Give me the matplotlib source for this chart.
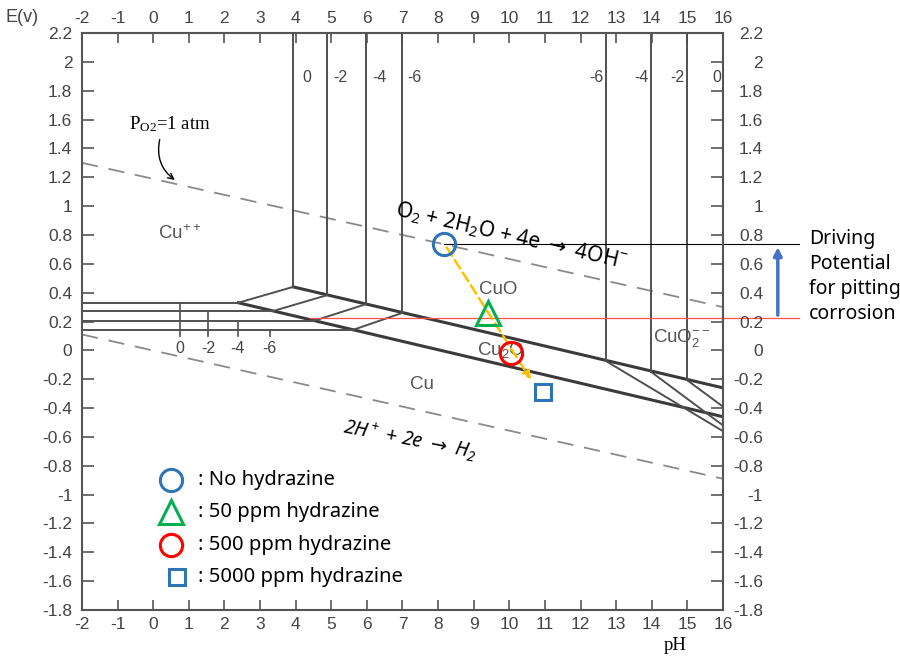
import matplotlib.pyplot as plt

# axis ranges and ticks
ph_ticks = list(range(-2, 17))
e_ticks = [-1.8, -1.6, -1.4, -1.2, -1.0, -0.8, -0.6, -0.4, -0.2, 0.0,
           0.2, 0.4, 0.6, 0.8, 1.0, 1.2, 1.4, 1.6, 1.8, 2.0, 2.2]
e_tick_labels = ['{:g}'.format(v) for v in e_ticks]

# water stability lines (dashed)
o2_ph = [-2, 16]
o2_e = [1.30, 0.30]
h2_ph = [-2, 16]
h2_e = [0.11, -0.89]

# main oxide boundaries (thick)
cuo_cu2o_ph = [3.93, 16]
cuo_cu2o_e = [0.44, -0.26]
cu2o_cu_ph = [2.39, 16]
cu2o_cu_e = [0.33, -0.46]

# Cu++ boundaries for log[Cu++] = 0, -2, -4, -6
conc_labels = ['0', '-2', '-4', '-6']
cu_ion_e = [0.33, 0.275, 0.205, 0.141]
cu_ion_end_ph = [2.39, 3.40, 4.52, 5.60]
cu_cuo_ph = [3.93, 4.89, 5.97, 7.0]
cu_cuo_bottom_e = [0.44, 0.383, 0.32, 0.26]
conc_mark_ph = [0.75, 1.54, 2.37, 3.27]
conc_top_label_ph = [4.3, 5.26, 6.35, 7.34]

# CuO2-- boundaries
cuo2_labels = ['-6', '-4', '-2', '0']
cuo2_label_ph = [12.45, 13.7, 14.73, 15.83]
cuo2_ph = [12.72, 13.97, 15.0]
cuo2_bottom_e = [-0.075, -0.147, -0.208]
cuo2_end_e = [-0.56, -0.52, -0.39]

# measured potentials
sample_labels = [': No hydrazine', ': 50 ppm hydrazine',
                 ': 500 ppm hydrazine', ': 5000 ppm hydrazine']
sample_ph = [8.18, 9.39, 10.04, 10.94]
sample_e = [0.735, 0.26, -0.02, -0.29]
sample_markers = ['o', '^', 'o', 's']
sample_colors = ['#2E75B6', '#00B050', '#FF0000', '#2E75B6']
sample_sizes = [16, 17, 16, 12]
legend_marker_ph = [0.5, 0.5, 0.5, 0.67]
legend_e = [-0.90, -1.12, -1.35, -1.57]

trend_start = (8.2, 0.73)
trend_end = (10.65, -0.22)
drive_high = 0.735
drive_low = 0.225

sans = ['Noto Sans', 'DejaVu Sans']

fig = plt.figure(figsize=(9, 6.56), dpi=100)
ax = fig.add_axes([0.0911, 0.0701, 0.7122, 0.8796])
ax.set_xlim(-2, 16)
ax.set_ylim(-1.8, 2.2)

line_c = '#3a3a3a'
thin_c = '#505050'
dash_c = '#8a8a8a'
axis_c = '#555555'
lab_c = '#444444'

# water lines
ax.plot(o2_ph, o2_e, color=dash_c, lw=1.3, dashes=(9, 6))
ax.plot(h2_ph, h2_e, color=dash_c, lw=1.3, dashes=(9, 6))

# thick boundaries
ax.plot(cuo_cu2o_ph, cuo_cu2o_e, color=line_c, lw=2.2)
ax.plot(cu2o_cu_ph, cu2o_cu_e, color=line_c, lw=2.2)

# Cu++ region lines
for i in range(4):
    ax.plot([-2, cu_ion_end_ph[i]], [cu_ion_e[i], cu_ion_e[i]], color=thin_c, lw=1.4)
    ax.plot([cu_cuo_ph[i], cu_cuo_ph[i]], [2.2, cu_cuo_bottom_e[i]], color=thin_c, lw=1.4)
    ax.plot([cu_ion_end_ph[i], cu_cuo_ph[i]], [cu_ion_e[i], cu_cuo_bottom_e[i]],
            color=thin_c, lw=1.4)
    ax.plot([conc_mark_ph[i], conc_mark_ph[i]], [cu_ion_e[i], 0.10], color=thin_c, lw=1.2)
    ax.text(conc_mark_ph[i], 0.015, conc_labels[i], ha='center', va='center',
            fontsize=11.5, color=lab_c, family='Liberation Sans')
    ax.text(conc_top_label_ph[i], 1.89, conc_labels[i], ha='center', va='center',
            fontsize=11.5, color=lab_c, family='Liberation Sans')

# CuO2-- region lines
for i in range(3):
    ax.plot([cuo2_ph[i], cuo2_ph[i]], [2.2, cuo2_bottom_e[i]], color=thin_c, lw=1.4)
    ax.plot([cuo2_ph[i], 16], [cuo2_bottom_e[i], cuo2_end_e[i]], color=thin_c, lw=1.4)
for i in range(4):
    ax.text(cuo2_label_ph[i], 1.89, cuo2_labels[i], ha='center', va='center',
            fontsize=11.5, color=lab_c, family='Liberation Sans')

# region names
reg = dict(fontsize=13.5, color='#555555', family='Liberation Sans', ha='center', va='center')
ax.text(0.75, 0.81, r'Cu$\mathregular{^{++}}$', **reg)
ax.text(9.7, 0.42, 'CuO', **reg)
ax.text(9.76, 0.0, r'Cu$\mathregular{_2}$O', **reg)
ax.text(14.85, 0.085, r'CuO$\mathregular{_2^{--}}$', **reg)
ax.text(7.55, -0.24, 'Cu', **reg)

# reaction labels
ax.text(10.05, 0.79,
        r'O$\mathregular{_2}$ + 2H$\mathregular{_2}$O + 4e $\rightarrow$ 4OH$\mathregular{^{-}}$',
        rotation=-13, rotation_mode='anchor', ha='center', va='center',
        fontsize=15, family=sans, color='black')
ax.text(7.22, -0.62, r'2H$\mathregular{^+}$ + 2e $\rightarrow$ H$\mathregular{_2}$',
        rotation=-11, rotation_mode='anchor', ha='center', va='center',
        fontsize=14, family=sans, style='italic', color='black')

ax.text(0.47, 1.57, r'P$\mathregular{_{O2}}$=1 atm', ha='center', va='center',
        fontsize=13.5, family='Liberation Serif', color='black')
ax.annotate('', xy=(0.67, 1.17), xytext=(0.2, 1.48),
            arrowprops=dict(arrowstyle='->', color='black', lw=1.0,
                            connectionstyle='arc3,rad=0.35'))

# driving potential lines
ax.plot([sample_ph[0], 18.13], [drive_high, drive_high], color='black', lw=0.8, clip_on=False)
ax.plot([4.4, 18.13], [drive_low, drive_low], color='#FF5050', lw=0.9, clip_on=False)
ax.annotate('', xy=(17.54, drive_high), xytext=(17.54, drive_low),
            arrowprops=dict(arrowstyle='-|>', color='#4472C4', lw=2.5, mutation_scale=12),
            annotation_clip=False)
ax.text(18.42, 0.51, 'Driving\nPotential\nfor pitting\ncorrosion', ha='left', va='center',
        fontsize=14, family=sans, linespacing=1.33, color='black', clip_on=False)

# trend arrow
ax.annotate('', xy=trend_end, xytext=trend_start,
            arrowprops=dict(arrowstyle='-|>', color='#FFC000', lw=1.8,
                            linestyle=(0, (4, 2)), mutation_scale=12))

# samples and legend
for i in range(4):
    ax.plot(sample_ph[i], sample_e[i], marker=sample_markers[i], ms=sample_sizes[i],
            mfc='none', mec=sample_colors[i], mew=2.2, ls='none', zorder=5)
    ax.plot(legend_marker_ph[i], legend_e[i], marker=sample_markers[i], ms=sample_sizes[i],
            mfc='none', mec=sample_colors[i], mew=2.2, ls='none', zorder=5)
    ax.text(1.26, legend_e[i], sample_labels[i], ha='left', va='center',
            fontsize=14.5, family=sans, color='black')

# axes styling
for s in ax.spines.values():
    s.set_color(axis_c)
    s.set_linewidth(1.5)
ax.set_xticks(ph_ticks)
ax.set_xticklabels([str(v) for v in ph_ticks])
ax.set_yticks(e_ticks)
ax.set_yticklabels(e_tick_labels)
ax.tick_params(axis='x', direction='in', length=7, width=1.2, color=axis_c, pad=5,
               top=True, labeltop=True, labelsize=12.5, labelcolor=lab_c)
ax.tick_params(axis='y', direction='in', length=8.5, width=1.2, color=axis_c, pad=7,
               labelsize=12.5, labelcolor=lab_c)
for t in ax.get_xticklabels() + ax.get_yticklabels():
    t.set_family('Liberation Sans')

ax2 = ax.twinx()
ax2.set_ylim(-1.8, 2.2)
ax2.set_yticks(e_ticks)
ax2.set_yticklabels(e_tick_labels, ha='right')
ax2.tick_params(axis='y', direction='in', length=8.5, width=1.2, color=axis_c, pad=29,
                labelsize=12.5, labelcolor=lab_c)
for t in ax2.get_yticklabels():
    t.set_family('Liberation Sans')
for s in ax2.spines.values():
    s.set_visible(False)

fig.text(22 / 900, 1 - 17 / 656, 'E(v)', ha='center', va='center', fontsize=13,
         color=lab_c, family='Liberation Sans')
fig.text(675 / 900, 1 - 646 / 656, 'pH', ha='center', va='center', fontsize=13.5,
         color='black', family='Liberation Serif')

fig.savefig('out.png', dpi=100)
